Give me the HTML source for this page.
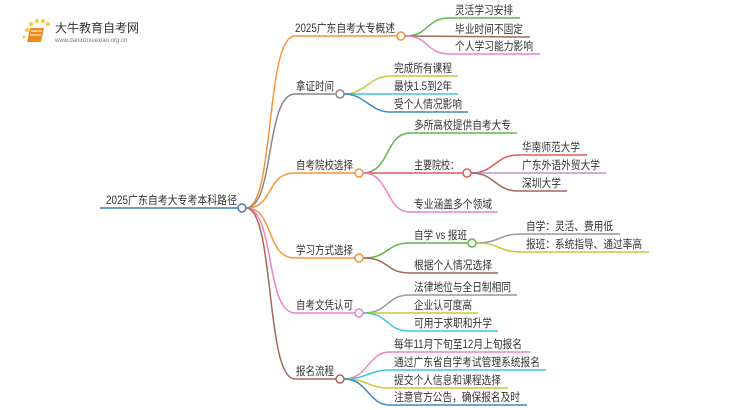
<!DOCTYPE html>
<html><head><meta charset="utf-8"><style>
html,body{margin:0;padding:0;background:#fff;width:750px;height:410px;overflow:hidden}
svg text{font-family:"Liberation Sans","Noto Sans CJK SC",sans-serif;font-size:11.5px;fill:#333}
</style></head><body>
<svg width="750" height="410" viewBox="0 0 750 410" xmlns="http://www.w3.org/2000/svg" fill="none" stroke-width="1.5">
<g>
<circle cx="27" cy="30" r="2" fill="#f7c948" stroke="none"/><circle cx="31" cy="24" r="2" fill="#f7c948" stroke="none"/><circle cx="37" cy="21" r="2" fill="#f7c948" stroke="none"/><circle cx="43" cy="21" r="2" fill="#f7c948" stroke="none"/><circle cx="48" cy="24" r="2" fill="#f7c948" stroke="none"/><circle cx="24" cy="37" r="1.5" fill="#f7c948" stroke="none"/>
<path d="M30 28 L44 28 L41 42 L27 42 Z" fill="#f08a1c" stroke="none"/>
<path d="M31 31 L42 31 M30 35 L41 35" stroke="#fff" stroke-width="1"/>
<text x="55" y="32" style="font-size:12px;fill:#333">大牛教育自考网</text>
<text x="55" y="42" style="font-size:6px;fill:#777">www.daniuzixuexiao.org.cn</text>
</g>
<path d="M100 208 L238 208" stroke="#3a7fc1"/>
<text x="106" y="204" textLength="131" lengthAdjust="spacingAndGlyphs">2025广东自考大专考本科路径</text>
<path d="M246 208 C275 208,265 36,295 36 L397 36" stroke="#f7943a"/>
<path d="M246 208 C275 208,265 94,295 94 L336 94" stroke="#888"/>
<path d="M246 208 C275 208,265 173,295 173 L355 173" stroke="#f7943a"/>
<path d="M246 208 C275 208,265 258,295 258 L355 258" stroke="#f7943a"/>
<path d="M246 208 C275 208,265 313,295 313 L355 313" stroke="#ee82c8"/>
<path d="M246 208 C275 208,265 379,295 379 L336 379" stroke="#a0695a"/>
<circle cx="242" cy="208" r="4" fill="#fff" stroke="#3a7fc1"/>
<text x="295" y="32" textLength="100" lengthAdjust="spacingAndGlyphs">2025广东自考大专概述</text>
<text x="296" y="90" textLength="38" lengthAdjust="spacingAndGlyphs">拿证时间</text>
<text x="296" y="169" textLength="57" lengthAdjust="spacingAndGlyphs">自考院校选择</text>
<text x="296" y="254" textLength="57" lengthAdjust="spacingAndGlyphs">学习方式选择</text>
<text x="296" y="309" textLength="57" lengthAdjust="spacingAndGlyphs">自考文凭认可</text>
<text x="296" y="375" textLength="38" lengthAdjust="spacingAndGlyphs">报名流程</text>
<path d="M405 36 C430 36,425 18,450 18 L520 18" stroke="#5cb848"/>
<path d="M405 36 L530 37" stroke="#a0695a"/>
<path d="M405 36 C430 36,425 54,450 54 L540 54" stroke="#ee82c8"/>
<circle cx="401" cy="36" r="4" fill="#fff" stroke="#f7943a"/>
<text x="455" y="14" textLength="58" lengthAdjust="spacingAndGlyphs">灵活学习安排</text>
<text x="455" y="33" textLength="68" lengthAdjust="spacingAndGlyphs">毕业时间不固定</text>
<text x="455" y="50" textLength="78" lengthAdjust="spacingAndGlyphs">个人学习能力影响</text>
<path d="M344 94 C365 94,370 76,390 76 L458 76" stroke="#c9c93a"/>
<path d="M344 94 L458 94" stroke="#3cc8d8"/>
<path d="M344 94 C365 94,370 112,390 112 L468 112" stroke="#3a8ac8"/>
<circle cx="340" cy="94" r="4" fill="#fff" stroke="#888"/>
<text x="394" y="72" textLength="58" lengthAdjust="spacingAndGlyphs">完成所有课程</text>
<text x="394" y="90" textLength="58" lengthAdjust="spacingAndGlyphs">最快1.5到2年</text>
<text x="394" y="108" textLength="68" lengthAdjust="spacingAndGlyphs">受个人情况影响</text>
<path d="M363 173 C390 173,385 133,410 133 L517 133" stroke="#5cb848"/>
<path d="M363 173 L463 173" stroke="#e05a5a"/>
<path d="M363 173 C390 173,385 212,410 212 L498 212" stroke="#ee82c8"/>
<circle cx="359" cy="173" r="4" fill="#fff" stroke="#f7943a"/>
<text x="414" y="129" textLength="97" lengthAdjust="spacingAndGlyphs">多所高校提供自考大专</text>
<text x="414" y="169" textLength="45" lengthAdjust="spacingAndGlyphs">主要院校：</text>
<text x="414" y="208" textLength="78" lengthAdjust="spacingAndGlyphs">专业涵盖多个领域</text>
<path d="M471 173 C495 173,495 155,518 155 L587 155" stroke="#e05a5a"/>
<path d="M471 173 L606 173" stroke="#b993d6"/>
<path d="M471 173 C495 173,495 191,518 191 L567 191" stroke="#a0695a"/>
<circle cx="467" cy="173" r="4" fill="#fff" stroke="#e05a5a"/>
<text x="522" y="151" textLength="58" lengthAdjust="spacingAndGlyphs">华南师范大学</text>
<text x="522" y="169" textLength="78" lengthAdjust="spacingAndGlyphs">广东外语外贸大学</text>
<text x="522" y="187" textLength="39" lengthAdjust="spacingAndGlyphs">深圳大学</text>
<path d="M363 258 C390 258,385 243,410 243 L468 243" stroke="#5cb848"/>
<path d="M363 258 C390 258,385 273,410 273 L498 273" stroke="#a0695a"/>
<circle cx="359" cy="258" r="4" fill="#fff" stroke="#f7943a"/>
<text x="414" y="239" textLength="53" lengthAdjust="spacingAndGlyphs">自学 vs 报班</text>
<text x="414" y="269" textLength="78" lengthAdjust="spacingAndGlyphs">根据个人情况选择</text>
<path d="M476 243 C500 243,498 234,522 234 L620 234" stroke="#999"/>
<path d="M476 243 C500 243,498 252,522 252 L649 252" stroke="#c9c93a"/>
<circle cx="472" cy="243" r="4" fill="#fff" stroke="#5cb848"/>
<text x="526" y="230" textLength="87" lengthAdjust="spacingAndGlyphs">自学：灵活、费用低</text>
<text x="526" y="248" textLength="116" lengthAdjust="spacingAndGlyphs">报班：系统指导、通过率高</text>
<path d="M363 313 C390 313,385 295,410 295 L517 295" stroke="#999"/>
<path d="M363 313 L478 313" stroke="#c9c93a"/>
<path d="M363 313 C390 313,385 331,410 331 L498 331" stroke="#3cc8d8"/>
<circle cx="359" cy="313" r="4" fill="#fff" stroke="#ee82c8"/>
<text x="414" y="291" textLength="97" lengthAdjust="spacingAndGlyphs">法律地位与全日制相同</text>
<text x="414" y="309" textLength="58" lengthAdjust="spacingAndGlyphs">企业认可度高</text>
<text x="414" y="327" textLength="78" lengthAdjust="spacingAndGlyphs">可用于求职和升学</text>
<path d="M344 379 C368 379,368 352,390 352 L530 352" stroke="#ee82c8"/>
<path d="M344 379 C368 379,368 370,390 370 L546 370" stroke="#3cc8d8"/>
<path d="M344 379 C368 379,368 388,390 388 L508 388" stroke="#c9c93a"/>
<path d="M344 379 C368 379,368 405,390 405 L527 405" stroke="#3a8ac8"/>
<circle cx="340" cy="379" r="4" fill="#fff" stroke="#a0695a"/>
<text x="394" y="348" textLength="128" lengthAdjust="spacingAndGlyphs">每年11月下旬至12月上旬报名</text>
<text x="394" y="366" textLength="146" lengthAdjust="spacingAndGlyphs">通过广东省自学考试管理系统报名</text>
<text x="394" y="384" textLength="107" lengthAdjust="spacingAndGlyphs">提交个人信息和课程选择</text>
<text x="394" y="401" textLength="126" lengthAdjust="spacingAndGlyphs">注意官方公告，确保报名及时</text>
</svg>
</body></html>
